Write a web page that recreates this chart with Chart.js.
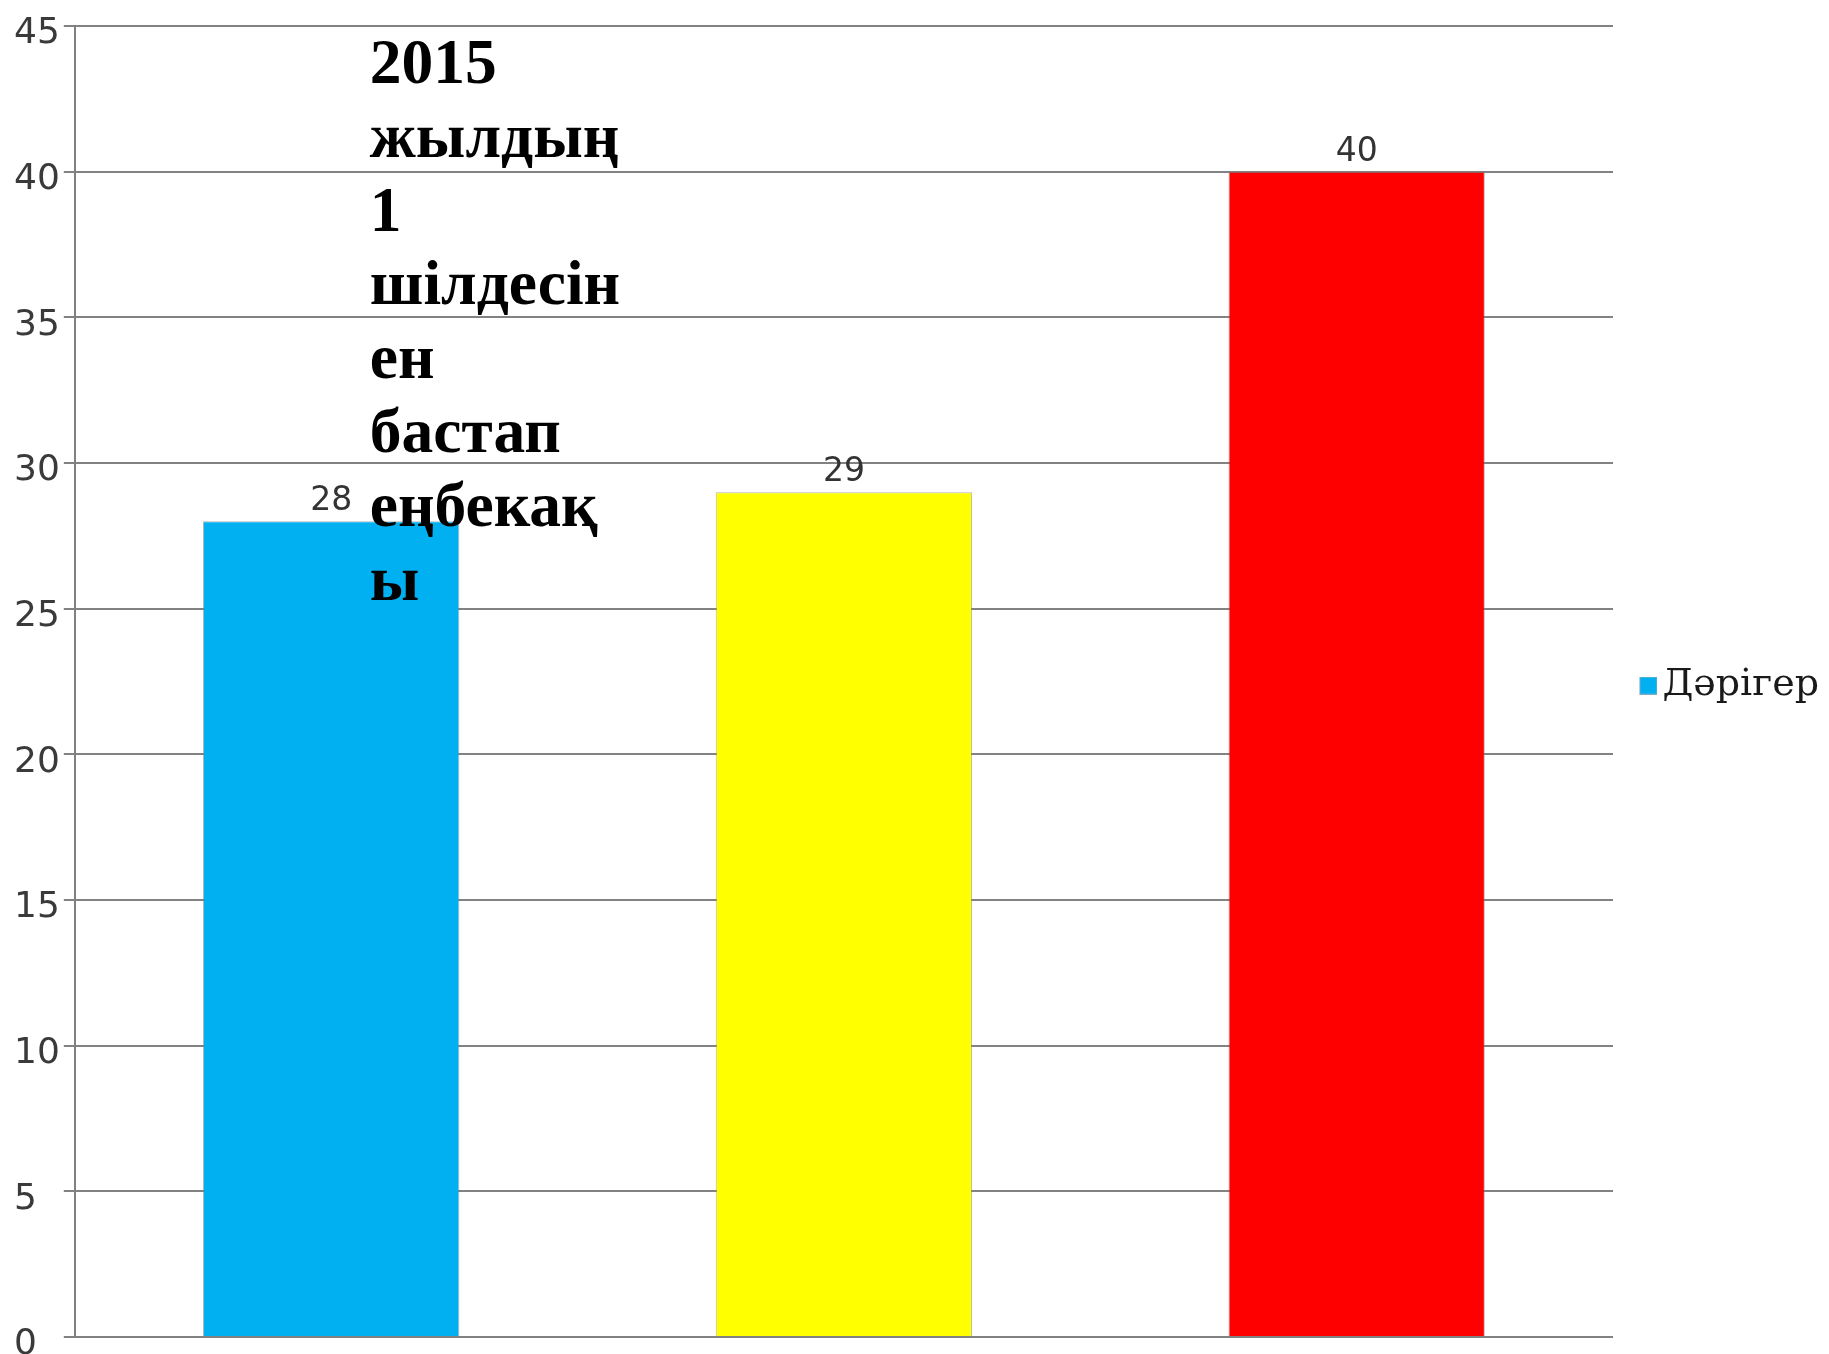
<!DOCTYPE html>
<html>
<head>
<meta charset="utf-8">
<script src="https://cdn.jsdelivr.net/npm/chart.js@4/dist/chart.umd.min.js"></script>
<style>
  html, body { margin: 0; padding: 0; background: #ffffff; }
  #wrap { width: 1829px; height: 1354px; position: relative; }
</style>
</head>
<body>
<div id="wrap"><canvas id="c" width="1829" height="1354"></canvas></div>
<script>
// ---- data ----
const categories = ["1", "2", "3"];
const seriesLabel = "Дәрігер";
const seriesValues = [28, 29, 40];
const barColors = ["#00B0F0", "#FFFF00", "#FF0000"];
const yTicks = [0, 5, 10, 15, 20, 25, 30, 35, 40, 45];
const noteLines = ["2015", "жылдың", "1", "шілдесін", "ен", "бастап", "еңбекақ", "ы"];

// legend marker: square shifted right inside a wider transparent image
function makeMarker() {
  const c = document.createElement('canvas');
  c.width = 48; c.height = 18;
  const g = c.getContext('2d');
  g.fillStyle = 'rgba(110,160,190,0.9)';
  g.fillRect(30, 0, 18, 18);
  g.fillStyle = barColors[0];
  g.fillRect(31, 1, 16, 16);
  return c;
}
const marker = makeMarker();

const valueLabelPlugin = {
  id: 'valueLabels',
  afterDatasetsDraw(chart) {
    const ctx = chart.ctx;
    const meta = chart.getDatasetMeta(0);
    ctx.save();
    ctx.font = '33px "DejaVu Sans"';
    ctx.fillStyle = '#333333';
    ctx.textAlign = 'center';
    ctx.textBaseline = 'alphabetic';
    meta.data.forEach((bar, i) => {
      ctx.fillText(String(seriesValues[i]), bar.x, bar.y - 11);
    });
    ctx.restore();
  }
};

const notePlugin = {
  id: 'noteText',
  afterDatasetsDraw(chart) {
    const ctx = chart.ctx;
    const area = chart.chartArea;
    ctx.save();
    ctx.font = 'bold 63.5px "Liberation Serif"';
    ctx.fillStyle = '#000000';
    ctx.textAlign = 'left';
    ctx.textBaseline = 'alphabetic';
    noteLines.forEach((line, i) => {
      ctx.fillText(line, area.left + 295, area.top + 57 + i * 73.8);
    });
    ctx.restore();
  }
};

new Chart(document.getElementById('c'), {
  type: 'bar',
  data: {
    labels: categories,
    datasets: [{
      label: seriesLabel,
      data: seriesValues,
      backgroundColor: barColors,
      borderColor: 'rgba(120,120,120,0.55)',
      borderWidth: 1,
      categoryPercentage: 1.0,
      barPercentage: 0.5
    }]
  },
  options: {
    responsive: false,
    animation: false,
    devicePixelRatio: 1,
    layout: { padding: { left: 14, right: 0, top: 26, bottom: 17 } },
    plugins: {
      tooltip: { enabled: false },
      legend: {
        display: true,
        position: 'right',
        align: 'center',
        title: {
          display: true,
          text: ' ',
          color: '#ffffff',
          font: { size: 1 },
          padding: { top: 0, bottom: 7 }
        },
        labels: {
          usePointStyle: true,
          pointStyleWidth: 20,
          boxWidth: 20,
          boxHeight: 18,
          padding: 10.4,
          color: '#1a1a1a',
          font: { family: '"DejaVu Serif"', size: 38 },
          generateLabels: () => [{
            text: seriesLabel,
            fillStyle: barColors[0],
            strokeStyle: barColors[0],
            fontColor: '#1a1a1a',
            lineWidth: 0,
            pointStyle: marker,
            hidden: false,
            datasetIndex: 0
          }]
        }
      }
    },
    scales: {
      x: {
        display: false,
        grid: { display: false }
      },
      y: {
        min: 0,
        max: 45,
        afterBuildTicks: (axis) => { axis.ticks = yTicks.map(v => ({ value: v })); },
        border: { display: true, color: '#808080', width: 2 },
        grid: {
          color: '#828282',
          lineWidth: 2,
          drawTicks: true,
          tickLength: 11
        },
        ticks: {
          crossAlign: 'far',
          padding: 2,
          labelOffset: 8,
          color: '#3a3a3a',
          font: { family: '"DejaVu Sans"', size: 36, lineHeight: 0.7 }
        }
      }
    }
  },
  plugins: [valueLabelPlugin, notePlugin]
});
</script>
</body>
</html>
